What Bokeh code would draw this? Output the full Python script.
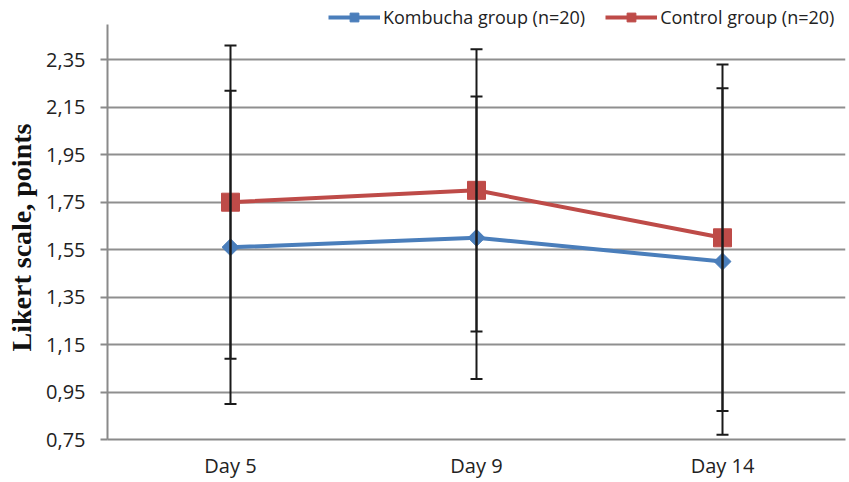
import numpy as np
from bokeh.plotting import figure
from bokeh.models import (ColumnDataSource, FactorRange, Range1d, FixedTicker, CustomJSTickFormatter,
                          Whisker, TeeHead, Legend, LegendItem)
from bokeh.embed import file_html
from bokeh.resources import INLINE

days = ["Day 5", "Day 9", "Day 14"]
kombucha = [1.56, 1.60, 1.50]
kombucha_sd = [0.66, 0.595, 0.73]
control = [1.75, 1.80, 1.60]
control_sd = [0.66, 0.595, 0.73]
y_ticks = [0.75, 0.95, 1.15, 1.35, 1.55, 1.75, 1.95, 2.15, 2.35]
y_min, y_max = 0.75, 2.5

BLUE = "#4A7EBB"
RED = "#BE4B48"
FONT = "Open Sans"

src = ColumnDataSource(dict(
    day=days,
    k=kombucha,
    k_lo=[v - s for v, s in zip(kombucha, kombucha_sd)],
    k_hi=[v + s for v, s in zip(kombucha, kombucha_sd)],
    c=control,
    c_lo=[v - s for v, s in zip(control, control_sd)],
    c_hi=[v + s for v, s in zip(control, control_sd)],
))

# the frame reaches to the top of the canvas so that the legend sits inside it;
# the visible axis stops at y_max
p = figure(width=849, height=482, x_range=FactorRange(*days, range_padding=0),
           y_range=Range1d(y_min, 2.6), output_backend="svg", toolbar_location=None,
           min_border_left=107, min_border_right=4, min_border_top=0, min_border_bottom=43)
p.outline_line_color = None
p.background_fill_color = "white"

# axes
p.yaxis.ticker = FixedTicker(ticks=y_ticks)
p.yaxis.bounds = (y_min, y_max)
p.yaxis.formatter = CustomJSTickFormatter(code="return tick.toFixed(2).replace('.', ',');")
p.yaxis.axis_line_color = "#8a8a8a"
p.yaxis.axis_line_width = 2
p.yaxis.major_tick_line_color = "#8a8a8a"
p.yaxis.major_tick_line_width = 2
p.yaxis.major_tick_out = 7
p.yaxis.major_tick_in = 0
p.yaxis.minor_tick_line_color = None
p.yaxis.major_label_text_font = FONT
p.yaxis.major_label_text_font_size = "20px"
p.yaxis.major_label_text_color = "#222222"
p.yaxis.major_label_standoff = 15
p.yaxis.axis_label = "Likert scale, points" + "\u00a0" * 5
p.yaxis.axis_label_text_font = "Liberation Serif"
p.yaxis.axis_label_text_font_style = "bold"
p.yaxis.axis_label_text_font_size = "28px"
p.yaxis.axis_label_text_color = "#111111"
p.yaxis.axis_label_standoff = 6

p.xaxis.axis_line_color = "#8a8a8a"
p.xaxis.axis_line_width = 2
p.xaxis.major_tick_line_color = None
p.xaxis.major_tick_out = 0
p.xaxis.major_tick_in = 0
p.xaxis.minor_tick_line_color = None
p.xaxis.major_label_text_font = FONT
p.xaxis.major_label_text_font_size = "20px"
p.xaxis.major_label_text_color = "#222222"
p.xaxis.major_label_standoff = 12

p.xgrid.grid_line_color = None
p.ygrid.grid_line_color = "#8f8f8f"
p.ygrid.grid_line_width = 2

# error bars (under markers)
for lo, hi in (("k_lo", "k_hi"), ("c_lo", "c_hi")):
    w = Whisker(base="day", lower=lo, upper=hi, source=src, level="glyph",
                line_color="#1a1a1a", line_width=2,
                upper_head=TeeHead(size=12, line_color="#1a1a1a", line_width=2),
                lower_head=TeeHead(size=12, line_color="#1a1a1a", line_width=2))
    p.add_layout(w)

k_line = p.line("day", "k", source=src, line_color=BLUE, line_width=4)
k_pts = p.scatter("day", "k", source=src, marker="square", angle=np.pi / 4, size=12,
                  fill_color=BLUE, line_color=BLUE)
c_line = p.line("day", "c", source=src, line_color=RED, line_width=4)
c_pts = p.scatter("day", "c", source=src, marker="square", size=18,
                  fill_color=RED, line_color=RED)

legend = Legend(items=[
    LegendItem(label="Kombucha group (n=20)", renderers=[k_line, k_pts]),
    LegendItem(label="Control group (n=20)", renderers=[c_line, c_pts]),
], orientation="horizontal", location=(221, 410),
    label_text_font=FONT, label_text_font_size="18px", label_text_color="#222222",
    glyph_width=52, glyph_height=22, label_standoff=3, spacing=20, padding=0,
    margin=0, border_line_color=None, background_fill_alpha=0)
p.add_layout(legend)

open("out.html", "w").write(file_html(p, INLINE))
